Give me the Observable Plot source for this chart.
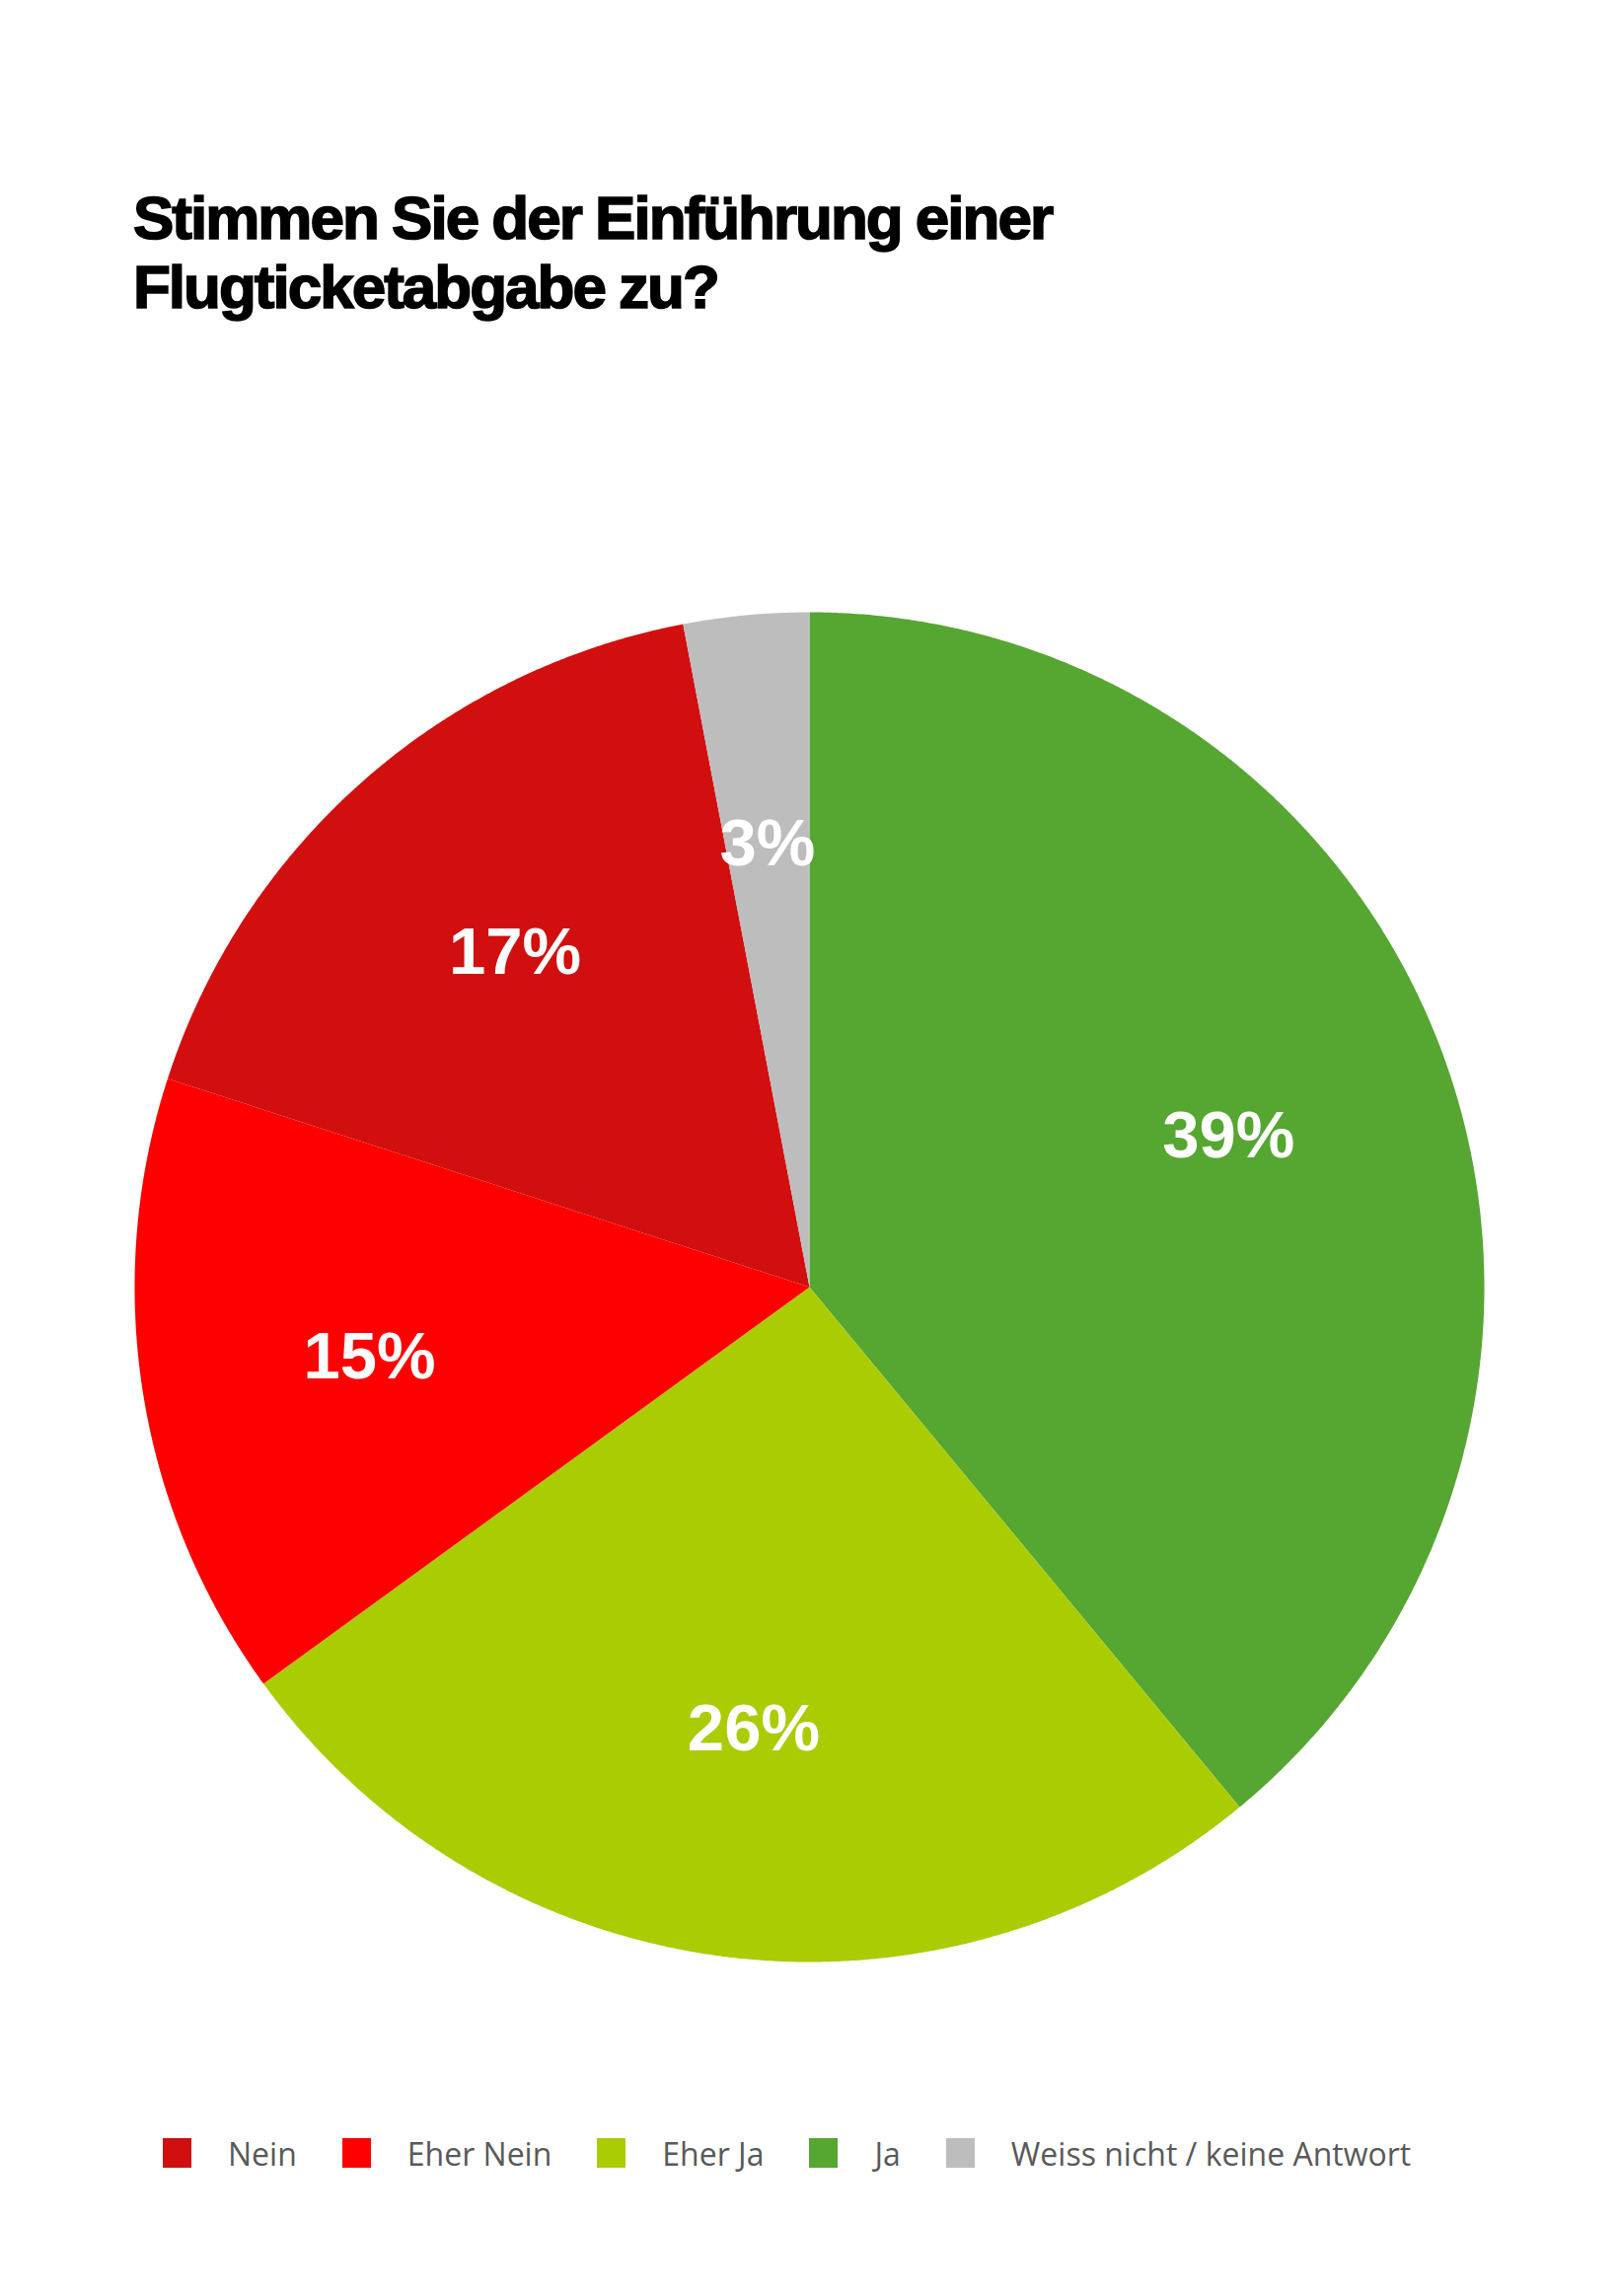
<!DOCTYPE html>
<html><head><meta charset="utf-8">
<script src="https://cdn.jsdelivr.net/npm/d3@7"></script>
<script src="https://cdn.jsdelivr.net/npm/@observablehq/plot@0.6"></script>
<style>
body{margin:0;background:#fff;width:1640px;height:2327px;position:relative;overflow:hidden;}
#title{position:absolute;left:135px;top:186px;font-family:"Liberation Sans",Arial,sans-serif;font-weight:700;font-size:62px;line-height:70px;letter-spacing:-2.0px;word-spacing:-1px;color:#000;margin:0;-webkit-text-stroke:1.6px #000;}
#chart{position:absolute;left:0;top:560px;}
#legend{position:absolute;left:165px;top:2160px;height:44px;display:flex;align-items:center;font-family:"Open Sans",sans-serif;font-size:32px;color:#595959;}
#legend .item{display:flex;align-items:center;margin-right:46px;}
#legend .sw{width:29px;height:30px;margin-right:37px;}
</style>
</head><body>
<div id="title">Stimmen Sie der Einführung einer<br>Flugticketabgabe zu?</div>
<div id="chart"></div>
<div id="legend"></div>
<script>
// Data
const categories = ["Nein", "Eher Nein", "Eher Ja", "Ja", "Weiss nicht / keine Antwort"];
const values = [17, 15, 26, 39, 3];
const labels = ["17%", "15%", "26%", "39%", "3%"];
const colors = ["#D20F0F", "#FF0000", "#AACC03", "#56A632", "#BDBDBD"];
const pieOrder = ["Ja", "Eher Ja", "Eher Nein", "Nein", "Weiss nicht / keine Antwort"];

// Build slice geometry (clockwise from top) from the values
const total = d3.sum(values);
const polys = [];
const labelPts = [];
let acc = 0;
for (const cat of pieOrder) {
  const i = categories.indexOf(cat);
  const a0 = acc / total * 2 * Math.PI;
  acc += values[i];
  const a1 = acc / total * 2 * Math.PI;
  const n = Math.max(2, Math.ceil((a1 - a0) / (Math.PI / 720)));
  polys.push({cat, x: 0, y: 0});
  for (let k = 0; k <= n; k++) {
    const a = a0 + (a1 - a0) * k / n;
    polys.push({cat, x: Math.sin(a), y: Math.cos(a)});
  }
  polys.push({cat, x: 0, y: 0});
  const am = (a0 + a1) / 2;
  const lr = 0.66;
  labelPts.push({cat, text: labels[i], x: lr * Math.sin(am), y: lr * Math.cos(am)});
}

const cy = 744, R = 684, cx = 820;
const chart = Plot.plot({
  width: 1640,
  height: 1500,
  margin: 0,
  x: {domain: [-1, 1], range: [cx - R, cx + R], axis: null},
  y: {domain: [-1, 1], range: [cy + R, cy - R], axis: null},
  color: {domain: categories, range: colors},
  marks: [
    Plot.line(polys, {x: "x", y: "y", z: "cat", fill: "cat", stroke: null, curve: "linear"}),
    Plot.text(labelPts, {x: "x", y: "y", text: "text", fill: "white", fontSize: 67, fontWeight: "bold", fontFamily: "Liberation Sans, Arial, sans-serif"})
  ]
});
document.getElementById("chart").appendChild(chart);

// Legend
const leg = document.getElementById("legend");
categories.forEach((c, i) => {
  const it = document.createElement("div");
  it.className = "item";
  const sw = document.createElement("div");
  sw.className = "sw";
  sw.style.background = colors[i];
  const t = document.createElement("span");
  t.textContent = c;
  it.appendChild(sw);
  it.appendChild(t);
  leg.appendChild(it);
});
</script>
</body></html>
